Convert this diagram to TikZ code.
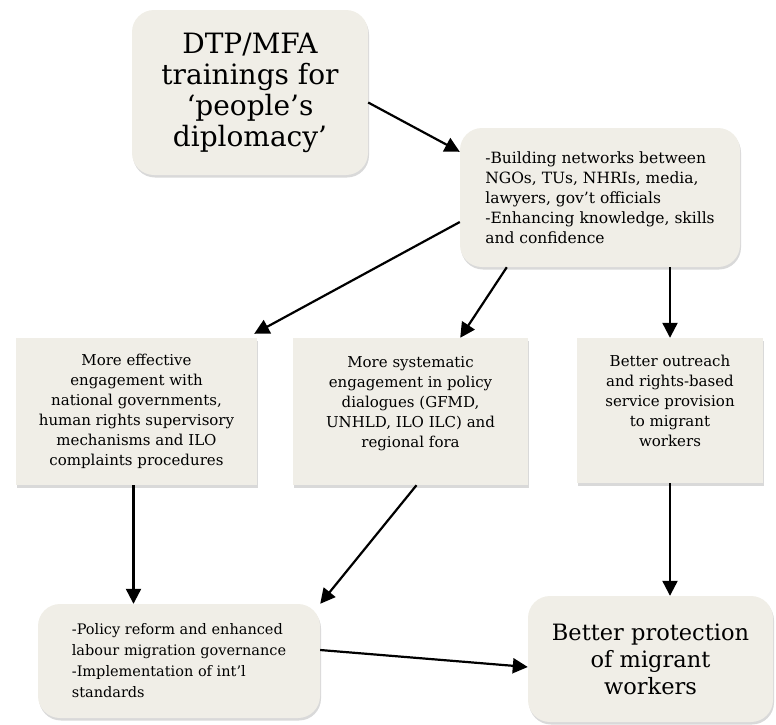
\documentclass[tikz,border=0pt]{standalone}
\usepackage{fontspec}
\setmainfont{DejaVu Serif}
\usetikzlibrary{arrows.meta,shadows}
\definecolor{boxfill}{RGB}{240,238,231}

\begin{document}
\begin{tikzpicture}[
  x=1pt, y=-1pt,
  every node/.style={fill=boxfill,inner sep=0pt,text=black,
    drop shadow={shadow xshift=1pt,shadow yshift=-2.5pt,opacity=0.3}},
  roundbox/.style={rounded corners=22pt},
  % squarebox/.style={draw=black!30,align=center},
  squarebox/.style={align=center,font=\fontsize{15}{20}\selectfont},
  link/.style={line width=2.2pt,-{Triangle[length=15pt,width=15pt]}},
  ]
  \useasboundingbox (0,0) rectangle (776,724);

  \node[roundbox,minimum width=236pt,minimum height=165pt,align=center,
    font=\fontsize{28}{31}\selectfont] (dtp) at (250,92.5)
    {DTP/MFA\\trainings for\\`people's\\diplomacy'};
  \node[roundbox,minimum width=280pt,minimum height=139pt,align=left,
    font=\fontsize{15.5}{20}\selectfont] (net) at (600,197.5)
    {-Building networks between\\NGOs, TUs, NHRIs, media,\\lawyers, gov't officials\\
     -Enhancing knowledge, skills\\and confidence};

  \node[squarebox,minimum width=241pt,minimum height=147pt] (eff) at (136.5,411.5)
    {More effective\\engagement with\\national governments,\\human rights supervisory\\
     mechanisms and ILO\\complaints procedures};
  \node[squarebox,minimum width=235pt,minimum height=147pt] (sys) at (410.5,411.5)
    {More systematic\\engagement in policy\\dialogues (GFMD,\\UNHLD, ILO ILC) and\\
     regional fora\\\mbox{}};
  \node[squarebox,minimum width=186pt,minimum height=145pt] (out) at (670,410.5)
    {Better outreach\\and rights-based\\service provision\\to migrant\\workers\\\mbox{}};

  \node[roundbox,minimum width=282pt,minimum height=114pt,align=left,
    font=\fontsize{14.5}{21}\selectfont] (pol) at (179,661)
    {-Policy reform and enhanced\\labour migration governance\\
     -Implementation of int'l\\standards};
  \node[roundbox,minimum width=245pt,minimum height=126pt,align=center,
    font=\fontsize{22.5}{27}\selectfont] (prot) at (650.5,659)
    {Better protection\\of migrant\\workers};

  \draw[link] ([yshift=-10pt]dtp.east) -- ([yshift=-24pt]net.north west);
  \draw[link] ([yshift=-24.5pt]net.west) -- ([xshift=-3pt,yshift=4pt]eff.north east);
  \draw[link] ([xshift=47pt]net.south west) -- ([xshift=-68pt]sys.north east);
  \draw[link] (net.south -| out.north) -- (out.north);
  \draw[link] ([xshift=-3pt]eff.south) -- ([xshift=-3pt]eff.south |- pol.north);
  \draw[link] ([xshift=6pt]sys.south) -- (pol.north east);
  \draw[link] (out.south) -- (out.south |- prot.north);
  \draw[link] ([yshift=11pt]pol.east) -- ([yshift=-8pt]prot.west);
\end{tikzpicture}
\end{document}
